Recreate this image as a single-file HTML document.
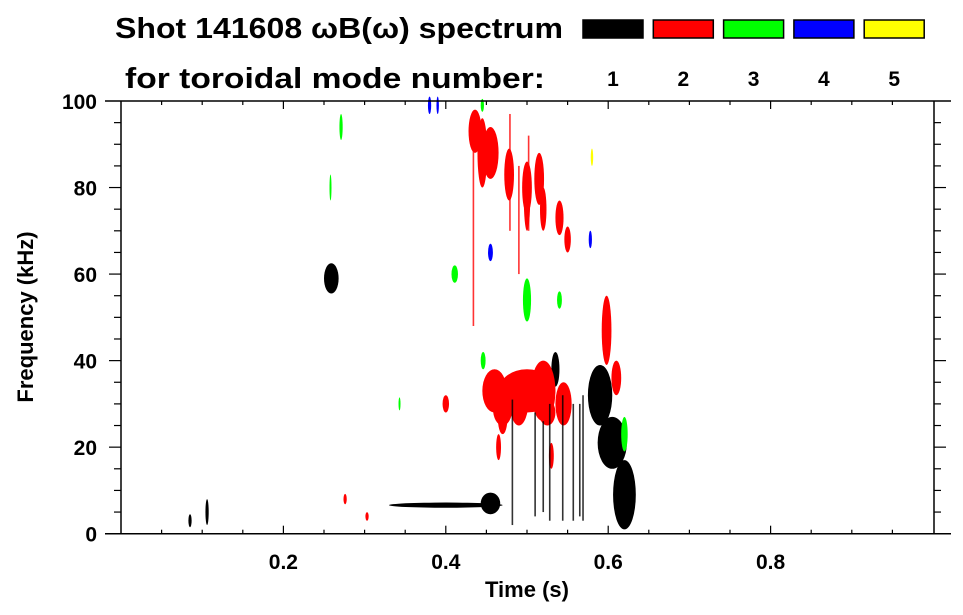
<!DOCTYPE html>
<html><head><meta charset="utf-8"><style>
html,body{margin:0;padding:0;background:#fff;}
svg{display:block;font-family:"Liberation Sans",sans-serif;font-weight:bold;}
</style></head><body>
<svg id="chart" width="963" height="615" viewBox="0 0 963 615">
<text x="115" y="38" font-size="29" textLength="448" lengthAdjust="spacingAndGlyphs">Shot 141608 ωB(ω) spectrum</text>
<text x="125" y="88" font-size="29" textLength="420" lengthAdjust="spacingAndGlyphs">for toroidal mode number:</text>
<g id="legend"></g>
<g id="plot"></g>
<g id="axes"></g>
<text transform="translate(33,317) rotate(-90)" text-anchor="middle" font-size="22">Frequency (kHz)</text>
<text x="527" y="597" text-anchor="middle" font-size="22">Time (s)</text>
</svg>
<script>
const modeColors = ["#000000","#ff0000","#00ff00","#0000ff","#ffff00"];
const modeLabels = ["1","2","3","4","5"];
const xTickLabels = [0.2,0.4,0.6,0.8];
const yTickLabels = [0,20,40,60,80,100];
// blobs: time (s), freq (kHz), half-width (s), half-height (kHz), mode index
const blobT  = [0.085,0.106,0.259,0.40,0.455,0.59,0.605,0.62,0.535,0.50,0.47,0.436,0.455,0.478,0.50,0.515,0.52,0.54,0.55,0.598,0.40,0.276,0.303,0.271,0.258,0.411,0.50,0.54,0.62,0.446,0.343,0.445,0.38,0.39,0.455,0.578,0.58,0.525,0.61,0.46,0.49,0.52,0.545,0.47,0.445,0.50,0.465,0.53];
const blobF  = [3,5,59,6.6,7,32,21,9,38,33,29,93,88,83,80,82,75,73,68,47,30,8,4,94,80,60,54,54,23,40,30,99,99,99,65,68,87,28,36,33,31,33,30,27,88,78,20,18];
const blobDT = [0.002,0.002,0.009,0.07,0.012,0.015,0.018,0.014,0.005,0.035,0.012,0.008,0.01,0.006,0.006,0.006,0.004,0.005,0.004,0.006,0.004,0.002,0.002,0.002,0.001,0.004,0.005,0.003,0.004,0.003,0.001,0.002,0.002,0.0015,0.003,0.002,0.0015,0.01,0.006,0.015,0.012,0.015,0.01,0.006,0.006,0.004,0.003,0.003];
const blobDF = [1.5,3,3.5,0.6,2.5,7,6,8,4,5,4,5,6,6,6,6,5,4,3,8,2,1.2,1,3,3,2,5,2,4,2,1.5,1.5,2,2,2,2,2,3,4,5,6,7,5,4,8,8,3,3];
const blobM  = [0,0,0,0,0,0,0,0,0,1,1,1,1,1,1,1,1,1,1,1,1,1,1,2,2,2,2,2,2,2,2,2,3,3,3,3,4,1,1,1,1,1,1,1,1,1,1,1];
// vertical streaks: time, freq low, freq high, mode
const strT  = [0.482,0.528,0.544,0.557,0.569,0.51,0.52,0.479,0.502,0.434,0.49,0.565];
const strF0 = [2,3,3,3,3,4,5,70,70,48,60,4];
const strF1 = [31,30,32,30,32,28,26,97,92,92,85,30];
const strM  = [0,0,0,0,0,0,0,1,1,1,1,0];

const X0=121, X1=933, Y0=533.7, Y1=101;
const xs = t => X0 + t*(X1-X0);
const ys = f => Y0 - f/100*(Y0-Y1);
const NS="http://www.w3.org/2000/svg";
function mk(tag, attrs, parent){const e=document.createElementNS(NS,tag);for(const k in attrs)e.setAttribute(k,attrs[k]);parent.appendChild(e);return e;}
const plot=document.getElementById('plot'), axes=document.getElementById('axes'), legend=document.getElementById('legend');

for(let i=0;i<modeColors.length;i++){
  const x=583+i*70.3;
  const r=mk('rect',{x:x,y:20,width:60,height:18,fill:modeColors[i],stroke:'#000','stroke-width':1.5},legend);
  
  
  const t=mk('text',{x:x+30,y:86,'text-anchor':'middle','font-size':21},legend);
  t.textContent=modeLabels[i];
  
  
}

for(let i=0;i<blobT.length;i++){
  const e=mk('ellipse',{cx:xs(blobT[i]),cy:ys(blobF[i]),rx:Math.max(1,blobDT[i]*(X1-X0)),ry:Math.max(1,blobDF[i]*(Y0-Y1)/100),fill:modeColors[blobM[i]]},plot);
  
  
}
for(let i=0;i<strT.length;i++){
  const r=mk('rect',{x:xs(strT[i])-0.8,y:ys(strF1[i]),width:1.6,height:ys(strF0[i])-ys(strF1[i]),fill:modeColors[strM[i]],opacity:0.8},plot);
  
  
}

mk('line',{x1:105,y1:Y0,x2:951,y2:Y0,stroke:'#000','stroke-width':1.5},axes);
mk('line',{x1:105,y1:Y1,x2:951,y2:Y1,stroke:'#000','stroke-width':1.5},axes);
mk('line',{x1:X0,y1:Y1,x2:X0,y2:Y0,stroke:'#000','stroke-width':1.5},axes);
mk('line',{x1:X1+1,y1:Y1,x2:X1+1,y2:Y0,stroke:'#000','stroke-width':1.5},axes);
for(let k=1;k<20;k++){
  const t=k*0.05, x=xs(t), L=(k%4===0)?8:4;
  mk('line',{x1:x,y1:Y0,x2:x,y2:Y0-L,stroke:'#000','stroke-width':1.2},axes);
  mk('line',{x1:x,y1:Y1,x2:x,y2:Y1+L,stroke:'#000','stroke-width':1.2},axes);
}
for(const v of xTickLabels){
  const t=mk('text',{x:xs(v),y:569,'text-anchor':'middle','font-size':21},axes);
  t.textContent=v.toFixed(1);
  
  
}
for(let k=1;k<20;k++){
  const y=ys(k*5), L=(k%4===0)?12:7;
  mk('line',{x1:X0,y1:y,x2:X0-L,y2:y,stroke:'#000','stroke-width':1.2},axes);
  mk('line',{x1:X1+1,y1:y,x2:X1+1+L,y2:y,stroke:'#000','stroke-width':1.2},axes);
}
for(const v of yTickLabels){
  const t=mk('text',{x:97,y:ys(v)+8,'text-anchor':'end','font-size':21},axes);
  t.textContent=String(v);
  
  
}
</script>
</body></html>
